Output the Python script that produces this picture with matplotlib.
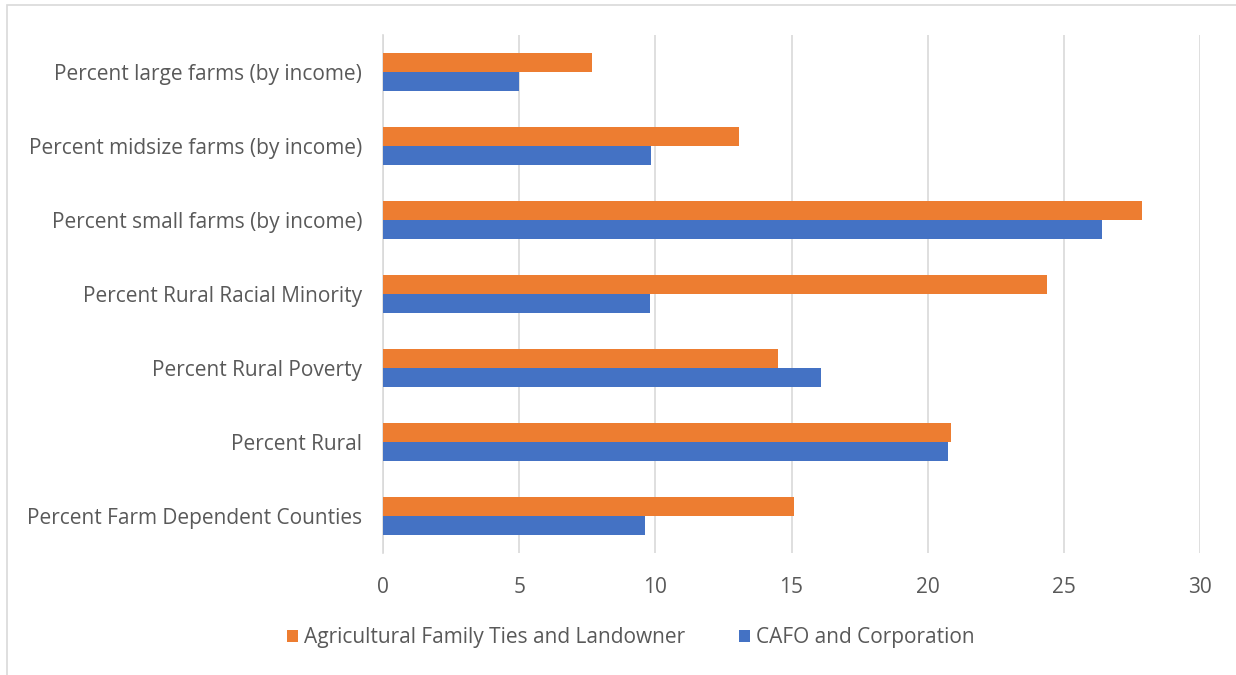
import numpy as np
import matplotlib.pyplot as plt
from matplotlib.patches import Rectangle

plt.rcParams['font.family'] = ['Open Sans', 'DejaVu Sans']

categories = [
    "Percent Farm Dependent Counties",
    "Percent Rural",
    "Percent Rural Poverty",
    "Percent Rural Racial Minority",
    "Percent small farms (by income)",
    "Percent midsize farms (by income)",
    "Percent large farms (by income)",
]
family_ties = [15.1, 20.87, 14.5, 24.4, 27.86, 13.07, 7.66]
cafo = [9.63, 20.75, 16.08, 9.79, 26.41, 9.83, 4.98]
x_ticks = [0, 5, 10, 15, 20, 25, 30]

orange = '#ED7D31'
blue = '#4472C4'
text_color = '#595959'
grid_color = '#D9D9D9'

fig = plt.figure(figsize=(12.36, 6.75), dpi=100)
ax = fig.add_axes([383 / 1236, 1 - 553 / 675, (1200 - 383) / 1236, (553 - 35) / 675])

y = np.arange(len(categories))
h = 0.257
ax.barh(y + h / 2, family_ties, height=h, color=orange, label="Agricultural Family Ties and Landowner", zorder=3)
ax.barh(y - h / 2, cafo, height=h, color=blue, label="CAFO and Corporation", zorder=3)

ax.set_xlim(0, 30)
ax.set_ylim(-0.5, len(categories) - 0.5)
ax.set_xticks(x_ticks)
ax.set_yticks(y)
ax.set_yticklabels(categories)
ax.tick_params(axis='x', length=0, pad=17, labelsize=15, labelcolor=text_color)
ax.tick_params(axis='y', length=0, pad=15, labelsize=15, labelcolor=text_color)
ax.grid(axis='x', color=grid_color, linewidth=1.2, zorder=0)
for s in ['top', 'right', 'bottom']:
    ax.spines[s].set_visible(False)
ax.spines['left'].set_color(grid_color)
ax.spines['left'].set_linewidth(1.2)

handles, labels = ax.get_legend_handles_labels()
fig.legend(handles, labels, loc='center', bbox_to_anchor=(631 / 1236, 1 - 638 / 675), ncol=2,
           frameon=False, fontsize=15, labelcolor=text_color, handlelength=0.5, handleheight=0.5,
           handletextpad=0.3, columnspacing=2.6)

# light chart border
fig.patches.append(Rectangle((7 / 1236, -0.1), 1.2, 1 - 5 / 675 + 0.1, transform=fig.transFigure,
                             fill=False, edgecolor=grid_color, linewidth=1.2))

fig.savefig('out.png', dpi=100)
